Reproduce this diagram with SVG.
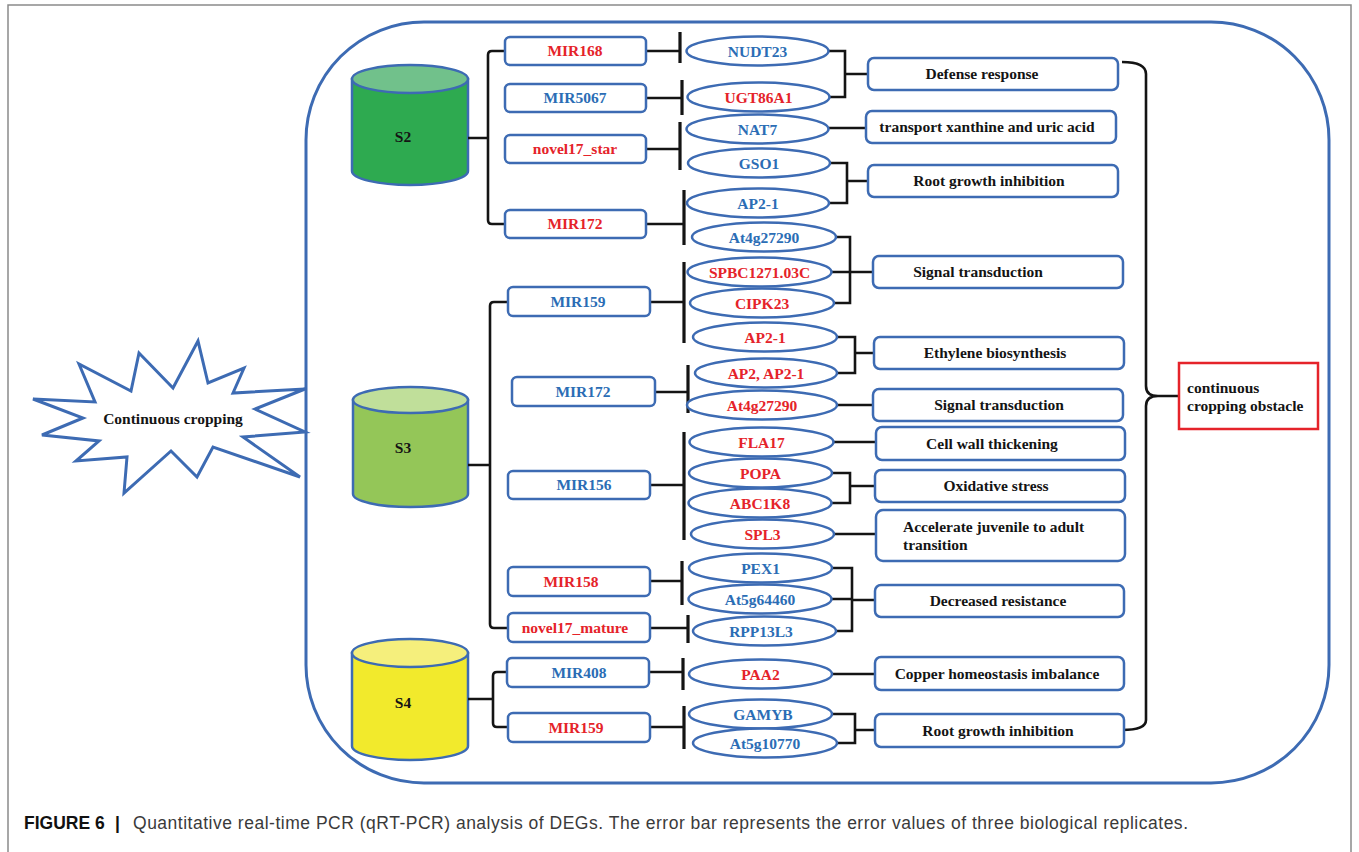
<svg xmlns="http://www.w3.org/2000/svg" width="1359" height="852" viewBox="0 0 1359 852">
  <style>
    .frame { fill: none; stroke: #8a8a8a; stroke-width: 1.5; }
    .outline { fill: none; stroke: #3d6bb3; stroke-width: 3; }
    .box { fill: #ffffff; stroke: #3d6bb3; stroke-width: 2.5; }
    .ell { fill: #ffffff; stroke: #3d6bb3; stroke-width: 2.5; }
    .cyl { stroke: #3d6bb3; stroke-width: 2.5; }
    .wire { fill: none; stroke: #141414; stroke-width: 2.6; }
    .bar { fill: none; stroke: #141414; stroke-width: 3.2; }
    .t { font-family: "Liberation Serif", "Times New Roman", serif; font-weight: bold; font-size: 15.5px; text-anchor: middle; }
    .tl { font-family: "Liberation Serif", "Times New Roman", serif; font-weight: bold; font-size: 15.5px; }
    .red { fill: #e5232a; }
    .blue { fill: #2b6db5; }
    .blk { fill: #141414; }
    .cap { font-family: "Liberation Sans", Arial, sans-serif; font-size: 17.5px; }
  </style>

  <!-- page frame -->
  <path class="frame" d="M8,852 V5 H1351 V852"/>

  <!-- rounded enclosure -->
  <rect class="outline" x="306" y="22" width="1023" height="761" rx="118" ry="118"/>

  <!-- starburst -->
  <g id="continuous-cropping">
    <polygon points="33,399 95,402 79,364 131,391 139,353 173,388 198,341 208,383 244,368 233,393 305,389 255,409 305,432 243,437 300,477 213,447 197,477 171,451 124,493 127,457 76,461 99,441 42,435 83,418" fill="#ffffff" stroke="#3d6bb3" stroke-width="3" stroke-linejoin="miter"/>
    <text class="t blk" x="173" y="424">Continuous cropping</text>
  </g>

  <!-- sample cylinders -->
  <g id="S2">
    <path class="cyl" fill="#2eaa50" d="M352,79 V171 A58,14 0 0 0 468,171 V79 Z"/>
    <ellipse class="cyl" fill="#71c18b" cx="410" cy="79" rx="58" ry="14"/>
    <text class="t blk" x="403" y="142">S2</text>
  </g>
  <g id="S3">
    <path class="cyl" fill="#94c658" d="M353,400 V494 A57.5,13 0 0 0 468,494 V400 Z"/>
    <ellipse class="cyl" fill="#c0df9a" cx="410.5" cy="400" rx="57.5" ry="13"/>
    <text class="t blk" x="403" y="453">S3</text>
  </g>
  <g id="S4">
    <path class="cyl" fill="#f2ea2c" d="M352,653 V746 A58,14 0 0 0 468,746 V653 Z"/>
    <ellipse class="cyl" fill="#f5ef7c" cx="410" cy="653" rx="58" ry="14"/>
    <text class="t blk" x="403" y="708">S4</text>
  </g>

  <!-- connectors -->
  <g id="connectors">
    <!-- sample brackets -->
    <path class="wire" d="M468,138 H488 M505,51 H492 Q488,51 488,55 V220 Q488,224 492,224 H505"/>
    <path class="wire" d="M468,465 H490 M508,302 H494 Q490,302 490,306 V624 Q490,628 494,628 H508"/>
    <path class="wire" d="M468,699 H493 M507,672 H497 Q493,672 493,676 V723 Q493,727 497,727 H508"/>

    <!-- miRNA inhibition bars -->
    <path class="wire" d="M646,51 H680 M646,98 H682 M646,149 H680 M646,224 H684 M650,302 H684 M655,392 H688 M650,485 H684 M650,581 H682 M650,628 H688 M649,672 H683 M650,727 H684"/>
    <path class="bar" d="M680,32 V63 M682,80 V115 M680,122 V170 M684,190 V245 M684,262 V343 M688,365 V413 M684,432 V540 M682,561 V605 M688,615 V643 M683,658 V690 M684,706 V749"/>

    <!-- targets to functions -->
    <path class="wire" d="M829,51 H845 V97 H830 M845,74 H868"/>
    <path class="wire" d="M829,128 H866"/>
    <path class="wire" d="M830,163 H847 V203 H829 M847,181 H868"/>
    <path class="wire" d="M835,237 H850 V303 H833 M831,272 H873"/>
    <path class="wire" d="M836,337 H855 V373 H837 M855,353 H874"/>
    <path class="wire" d="M833,405 H873"/>
    <path class="wire" d="M833,442 H876"/>
    <path class="wire" d="M832,473 H850 V503 H831 M850,486 H875"/>
    <path class="wire" d="M834,534 H876"/>
    <path class="wire" d="M832,568 H852 V631 H836 M831,599 H852 M852,600 H875"/>
    <path class="wire" d="M832,674 H875"/>
    <path class="wire" d="M832,714 H855 V743 H836 M855,730 H875"/>

    <!-- outcome brace -->
    <path class="wire" d="M1122,62 Q1146,62 1146,74 V386 Q1146,396 1158,396 H1179 M1158,396 Q1146,396 1146,406 V720 Q1146,730 1122,730"/>
  </g>

  <!-- miRNA nodes -->
  <g id="mir168-s2"><rect class="box" x="505" y="37" width="141" height="28" rx="5"/><text class="t red" x="575" y="56">MIR168</text></g>
  <g id="mir5067-s2"><rect class="box" x="505" y="84" width="141" height="28" rx="5"/><text class="t blue" x="575" y="103">MIR5067</text></g>
  <g id="novel17-star-s2"><rect class="box" x="505" y="135" width="141" height="28" rx="5"/><text class="t red" x="575" y="154">novel17_star</text></g>
  <g id="mir172-s2"><rect class="box" x="505" y="210" width="141" height="28" rx="5"/><text class="t red" x="575" y="229">MIR172</text></g>
  <g id="mir159-s3"><rect class="box" x="508" y="287" width="142" height="29" rx="5"/><text class="t blue" x="578" y="307">MIR159</text></g>
  <g id="mir172-s3"><rect class="box" x="512" y="377" width="143" height="29" rx="5"/><text class="t blue" x="583" y="397">MIR172</text></g>
  <g id="mir156-s3"><rect class="box" x="508" y="471" width="142" height="28" rx="5"/><text class="t blue" x="584" y="490">MIR156</text></g>
  <g id="mir158-s3"><rect class="box" x="508" y="567" width="142" height="29" rx="5"/><text class="t red" x="571" y="587">MIR158</text></g>
  <g id="novel17-mature-s3"><rect class="box" x="508" y="613" width="142" height="29" rx="5"/><text class="t red" x="575" y="633">novel17_mature</text></g>
  <g id="mir408-s4"><rect class="box" x="507" y="658" width="142" height="29" rx="5"/><text class="t blue" x="579" y="678">MIR408</text></g>
  <g id="mir159-s4"><rect class="box" x="508" y="713" width="142" height="29" rx="5"/><text class="t red" x="576" y="733">MIR159</text></g>

  <!-- target gene nodes -->
  <g id="nudt23"><ellipse class="ell" cx="757.5" cy="51" rx="71" ry="14.5"/><text class="t blue" x="757.5" y="56.5">NUDT23</text></g>
  <g id="ugt86a1"><ellipse class="ell" cx="758.5" cy="97" rx="71" ry="14.5"/><text class="t red" x="758.5" y="102.5">UGT86A1</text></g>
  <g id="nat7"><ellipse class="ell" cx="757.5" cy="129" rx="71" ry="14.5"/><text class="t blue" x="757.5" y="134.5">NAT7</text></g>
  <g id="gso1"><ellipse class="ell" cx="759" cy="163" rx="71" ry="14.5"/><text class="t blue" x="759" y="168.5">GSO1</text></g>
  <g id="ap2-1-s2"><ellipse class="ell" cx="758" cy="203" rx="71" ry="14.5"/><text class="t blue" x="758" y="208.5">AP2-1</text></g>
  <g id="at4g27290-s2"><ellipse class="ell" cx="764" cy="237" rx="72" ry="14.5"/><text class="t blue" x="764" y="242.5">At4g27290</text></g>
  <g id="spbc1271"><ellipse class="ell" cx="759.5" cy="272" rx="72" ry="14.5"/><text class="t red" x="759.5" y="277.5">SPBC1271.03C</text></g>
  <g id="cipk23"><ellipse class="ell" cx="762" cy="303" rx="72" ry="14.5"/><text class="t red" x="762" y="308.5">CIPK23</text></g>
  <g id="ap2-1-s3"><ellipse class="ell" cx="765" cy="337" rx="72" ry="14.5"/><text class="t red" x="765" y="342.5">AP2-1</text></g>
  <g id="ap2-ap2-1"><ellipse class="ell" cx="766" cy="373" rx="71" ry="14.5"/><text class="t red" x="766" y="378.5">AP2, AP2-1</text></g>
  <g id="at4g27290-s3"><ellipse class="ell" cx="762" cy="405" rx="75" ry="14.5"/><text class="t red" x="762" y="410.5">At4g27290</text></g>
  <g id="fla17"><ellipse class="ell" cx="761.5" cy="442" rx="72" ry="14.5"/><text class="t red" x="761.5" y="447.5">FLA17</text></g>
  <g id="popa"><ellipse class="ell" cx="760.5" cy="473" rx="71.5" ry="14.5"/><text class="t red" x="760.5" y="478.5">POPA</text></g>
  <g id="abc1k8"><ellipse class="ell" cx="760" cy="503" rx="71.5" ry="14.5"/><text class="t red" x="760" y="508.5">ABC1K8</text></g>
  <g id="spl3"><ellipse class="ell" cx="762.5" cy="534" rx="71.5" ry="14.5"/><text class="t red" x="762.5" y="539.5">SPL3</text></g>
  <g id="pex1"><ellipse class="ell" cx="760.5" cy="568" rx="71.5" ry="14.5"/><text class="t blue" x="760.5" y="573.5">PEX1</text></g>
  <g id="at5g64460"><ellipse class="ell" cx="760" cy="599" rx="71.5" ry="14.5"/><text class="t blue" x="760" y="604.5">At5g64460</text></g>
  <g id="rpp13l3"><ellipse class="ell" cx="764.5" cy="631" rx="71.5" ry="14.5"/><text class="t blue" x="761" y="636.5">RPP13L3</text></g>
  <g id="paa2"><ellipse class="ell" cx="760.5" cy="674" rx="71.5" ry="14.5"/><text class="t red" x="760.5" y="679.5">PAA2</text></g>
  <g id="gamyb"><ellipse class="ell" cx="760.5" cy="714" rx="71.5" ry="14.5"/><text class="t blue" x="763" y="719.5">GAMYB</text></g>
  <g id="at5g10770"><ellipse class="ell" cx="765" cy="743" rx="72" ry="14.5"/><text class="t blue" x="765" y="748.5">At5g10770</text></g>

  <!-- function nodes -->
  <g id="fn-defense"><rect class="box" x="868" y="58" width="250" height="32" rx="6"/><text class="t blk" x="982" y="79">Defense response</text></g>
  <g id="fn-transport"><rect class="box" x="866" y="111" width="250" height="32" rx="6"/><text class="t blk" x="987" y="132">transport xanthine and uric acid</text></g>
  <g id="fn-root-1"><rect class="box" x="868" y="165" width="250" height="32" rx="6"/><text class="t blk" x="989" y="186">Root growth inhibition</text></g>
  <g id="fn-signal-1"><rect class="box" x="873" y="256" width="250" height="32" rx="6"/><text class="t blk" x="978" y="277">Signal transduction</text></g>
  <g id="fn-ethylene"><rect class="box" x="874" y="337" width="250" height="32" rx="6"/><text class="t blk" x="995" y="358">Ethylene biosynthesis</text></g>
  <g id="fn-signal-2"><rect class="box" x="873" y="389" width="250" height="32" rx="6"/><text class="t blk" x="999" y="410">Signal transduction</text></g>
  <g id="fn-cellwall"><rect class="box" x="876" y="427" width="249" height="33" rx="6"/><text class="t blk" x="992" y="449">Cell wall thickening</text></g>
  <g id="fn-oxidative"><rect class="box" x="875" y="470" width="250" height="32" rx="6"/><text class="t blk" x="996" y="491">Oxidative stress</text></g>
  <g id="fn-juvenile"><rect class="box" x="876" y="510" width="249" height="51" rx="7"/><text class="tl blk" x="903" y="532">Accelerate juvenile to adult</text><text class="tl blk" x="903" y="550">transition</text></g>
  <g id="fn-resistance"><rect class="box" x="875" y="585" width="249" height="32" rx="6"/><text class="t blk" x="998" y="606">Decreased resistance</text></g>
  <g id="fn-copper"><rect class="box" x="875" y="657" width="249" height="33" rx="6"/><text class="t blk" x="997" y="679">Copper homeostasis imbalance</text></g>
  <g id="fn-root-2"><rect class="box" x="875" y="714" width="249" height="33" rx="6"/><text class="t blk" x="998" y="736">Root growth inhibition</text></g>

  <!-- outcome -->
  <g id="obstacle">
    <rect x="1179" y="363" width="139" height="66" fill="#ffffff" stroke="#e5232a" stroke-width="2.5"/>
    <text class="tl blk" x="1187" y="393">continuous</text>
    <text class="tl blk" x="1187" y="411">cropping obstacle</text>
  </g>

  <!-- caption -->
  <g id="caption">
    <text class="cap" x="24" y="829" font-weight="bold" fill="#111111">FIGURE 6</text>
    <text class="cap" x="115" y="829" font-weight="bold" fill="#111111">|</text>
    <text class="cap" x="133" y="829" fill="#3a3a3a" textLength="1055" lengthAdjust="spacing">Quantitative real-time PCR (qRT-PCR) analysis of DEGs. The error bar represents the error values of three biological replicates.</text>
  </g>
</svg>
